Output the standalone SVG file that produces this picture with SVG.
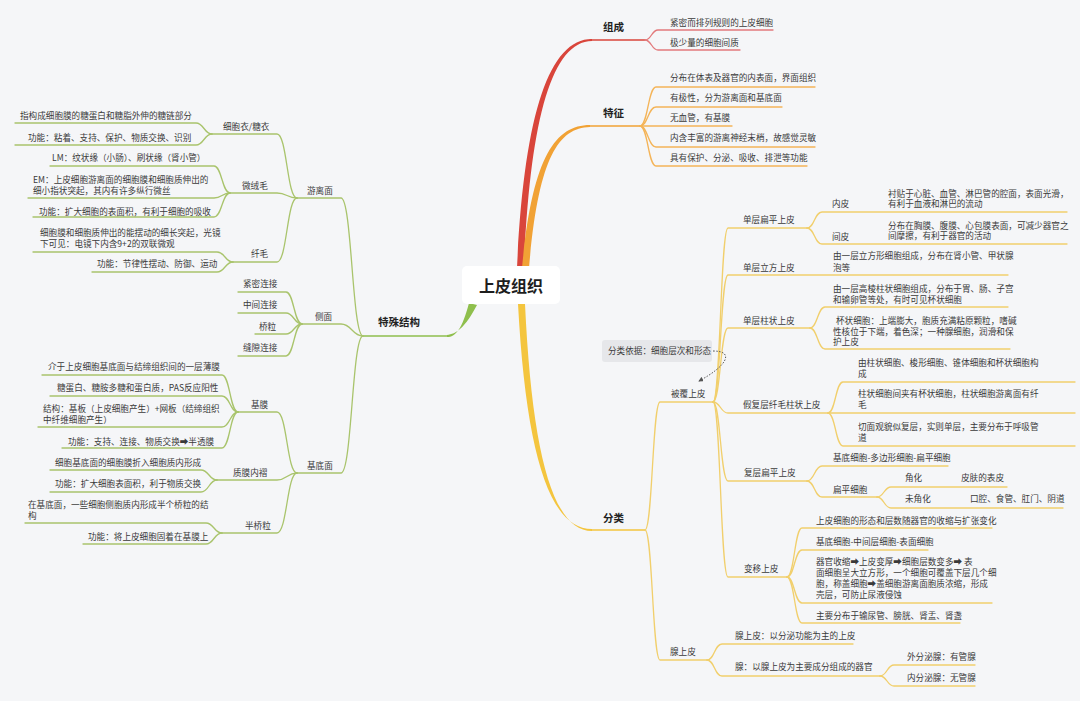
<svg xmlns="http://www.w3.org/2000/svg" width="1080" height="701" viewBox="0 0 1080 701">
<defs>
<style>
.t{font-family:"Noto Sans CJK SC","Noto Sans",sans-serif;font-size:8.6px;fill:#3a3a3a}
.m{font-family:"Noto Sans CJK SC","Noto Sans",sans-serif;font-size:10.5px;font-weight:bold;fill:#222}
.root{font-family:"Noto Sans CJK SC","Noto Sans",sans-serif;font-size:16px;font-weight:bold;fill:#1e1e1e}
.l{fill:none;stroke-width:1.3;stroke-linecap:round}
.red{stroke:#e27a7c}
.org{stroke:#f4b458}
.yel{stroke:#f1cf6c}
.grn{stroke:#a9c46c}
</style>
<marker id="ah" viewBox="0 0 6 6" refX="5" refY="3" markerWidth="5" markerHeight="5" orient="auto">
<path d="M0 0 L6 3 L0 6 Z" fill="#555"/>
</marker>
</defs>
<rect x="0" y="0" width="1080" height="701" fill="#f5f6f8"/>

<g id="connectors">
<!-- main thick branches -->
<path d="M517 268 C524 118 548 39 592 39 L592 41 C551 41.5 530 122 524 268 Z" fill="#d9453b"/>
<path d="M590 40 H645" class="l" stroke="#d9453b" stroke-width="1.8"/>
<path d="M522 268 C532 160 554 125 590 125 L590 127 C557 127.5 538 162 529 268 Z" fill="#f1a235"/>
<path d="M590 126 H640" class="l" stroke="#f1a235" stroke-width="1.8"/>
<path d="M518 304 C526 452 549 529.2 592 529 L592 531 C552 531 532 450 525 304 Z" fill="#f4c53e"/>
<path d="M592 530 H645" class="l" stroke="#f4c53e" stroke-width="1.8"/>
<path d="M469 303 C462 330 455 337.2 447 337 L447 335 C456 334 465 328 477 305 Z" fill="#8fbf4d"/>
<path d="M447 336 H363" class="l" stroke="#8fbf4d" stroke-width="1.8"/>

<!-- 组成 -->
<path class="l red" d="M645 40 C651.5 40 651.5 30 658 30 H773"/>
<path class="l red" d="M645 40 C651.5 40 651.5 50 658 50 H740"/>
<!-- 特征 -->
<path class="l org" d="M640 126 C648 126 648 87 656 87 H815"/>
<path class="l org" d="M640 126 C648 126 648 107 656 107 H782"/>
<path class="l org" d="M640 126 H732"/>
<path class="l org" d="M640 126 C648 126 648 147 656 147 H815"/>
<path class="l org" d="M640 126 C648 126 648 166 656 166 H807"/>
<!-- 分类 -->
<path class="l yel" d="M645 530 C652.5 530 652.5 402 660 402 H713"/>
<path class="l yel" d="M645 530 C652.5 530 652.5 660 660 660 H707"/>
<!-- 被覆上皮 -->
<path class="l yel" d="M713 402 C720.5 402 720.5 228 728 228 H807"/>
<path class="l yel" d="M713 402 C720.5 402 720.5 275 728 275 H1008"/>
<path class="l yel" d="M713 402 C720.5 402 720.5 328 728 328 H810"/>
<path class="l yel" d="M713 402 C720.5 402 720.5 413 728 413 H828"/>
<path class="l yel" d="M713 402 C720.5 402 720.5 481 728 481 H807"/>
<path class="l yel" d="M713 402 C720.5 402 720.5 577 728 577 H787"/>
<!-- 单层扁平上皮 -->
<path class="l yel" d="M807 228 C814.5 228 814.5 212 822 212 H1067"/>
<path class="l yel" d="M807 228 C814.5 228 814.5 244 822 244 H1067"/>
<!-- 单层柱状上皮 -->
<path class="l yel" d="M810 328 C817.5 328 817.5 307 825 307 H1008"/>
<path class="l yel" d="M810 328 C817.5 328 817.5 349 825 349 H1010"/>
<!-- 假复层纤毛柱状上皮 -->
<path class="l yel" d="M828 413 C835.5 413 835.5 382 843 382 H1075"/>
<path class="l yel" d="M828 413 H1075"/>
<path class="l yel" d="M828 413 C835.5 413 835.5 446 843 446 H1075"/>
<!-- 复层扁平上皮 -->
<path class="l yel" d="M807 481 C814.5 481 814.5 466 822 466 H948"/>
<path class="l yel" d="M807 481 C814.5 481 814.5 497 822 497 H877"/>
<!-- 扁平细胞 -->
<path class="l yel" d="M877 497 C884 497 884 487 891 487 H1007"/>
<path class="l yel" d="M877 497 C884 497 884 508 891 508 H1063"/>
<!-- 变移上皮 -->
<path class="l yel" d="M787 577 C794.5 577 794.5 528 802 528 H992"/>
<path class="l yel" d="M787 577 C794.5 577 794.5 550 802 550 H928"/>
<path class="l yel" d="M787 577 C794.5 577 794.5 603 802 603 H992"/>
<path class="l yel" d="M787 577 C794.5 577 794.5 623 802 623 H960"/>
<!-- 腺上皮 -->
<path class="l yel" d="M707 660 C714.5 660 714.5 644 722 644 H853"/>
<path class="l yel" d="M707 660 C714.5 660 714.5 676 722 676 H880"/>
<!-- 腺 -->
<path class="l yel" d="M880 676 C887 676 887 665 894 665 H975"/>
<path class="l yel" d="M880 676 C887 676 887 686 894 686 H975"/>

<!-- 特殊结构 -->
<path class="l grn" d="M363 336 C352 336 352 198 341 198 H297"/>
<path class="l grn" d="M363 336 C352 336 352 324 341 324 H302"/>
<path class="l grn" d="M363 336 C352 336 352 473 341 473 H297"/>
<!-- 游离面 -->
<path class="l grn" d="M297 198 C287 198 287 134 277 134 H212"/>
<path class="l grn" d="M297 198 C287 198 287 193 277 193 H230"/>
<path class="l grn" d="M297 198 C287 198 287 262 277 262 H233"/>
<!-- 细胞衣/糖衣 -->
<path class="l grn" d="M212 134 C204 134 204 123 196 123 H15"/>
<path class="l grn" d="M212 134 C204 134 204 145 196 145 H15"/>
<!-- 微绒毛 -->
<path class="l grn" d="M230 193 C222 193 222 166 214 166 H50"/>
<path class="l grn" d="M230 193 C222 193 222 198 214 198 H28"/>
<path class="l grn" d="M230 193 C222 193 222 217 214 217 H33"/>
<!-- 纤毛 -->
<path class="l grn" d="M233 262 C225 262 225 252 217 252 H33"/>
<path class="l grn" d="M233 262 C225 262 225 272 217 272 H92"/>
<!-- 侧面 -->
<path class="l grn" d="M302 324 C294 324 294 292 286 292 H238"/>
<path class="l grn" d="M302 324 C294 324 294 313 286 313 H238"/>
<path class="l grn" d="M302 324 C294 324 294 334 286 334 H255"/>
<path class="l grn" d="M302 324 C294 324 294 356 286 356 H238"/>
<!-- 基底面 -->
<path class="l grn" d="M297 473 C287 473 287 412 277 412 H238"/>
<path class="l grn" d="M297 473 C287 473 287 480 277 480 H217"/>
<path class="l grn" d="M297 473 C287 473 287 533 277 533 H222"/>
<!-- 基膜 -->
<path class="l grn" d="M238 412 C230 412 230 375 222 375 H42"/>
<path class="l grn" d="M238 412 C230 412 230 396 222 396 H50"/>
<path class="l grn" d="M238 412 C230 412 230 427 222 427 H38"/>
<path class="l grn" d="M238 412 C230 412 230 448 222 448 H62"/>
<!-- 质膜内褶 -->
<path class="l grn" d="M217 480 C209 480 209 470 201 470 H50"/>
<path class="l grn" d="M217 480 C209 480 209 492 201 492 H50"/>
<!-- 半桥粒 -->
<path class="l grn" d="M222 533 C214 533 214 523 206 523 H25"/>
<path class="l grn" d="M222 533 C214 533 214 544 206 544 H83"/>

<!-- 分类依据 dotted link -->
<path d="M713 351 C735 351 727 366 699 381" fill="none" stroke="#555" stroke-width="1" stroke-dasharray="1.5 1.5" marker-end="url(#ah)"/>
</g>

<g id="root">
<rect x="462" y="266" width="98" height="38" rx="5" fill="#ffffff"/>
<text class="root" x="511" y="292" text-anchor="middle">上皮组织</text>
</g>

<g id="zucheng"><text class="m" x="603" y="31">组成</text></g>
<g id="zc1"><text class="t" x="670" y="26">紧密而排列规则的上皮细胞</text></g>
<g id="zc2"><text class="t" x="670" y="46">极少量的细胞间质</text></g>

<g id="tezheng"><text class="m" x="603" y="117">特征</text></g>
<g id="tz1"><text class="t" x="670" y="81">分布在体表及器官的内表面，界面组织</text></g>
<g id="tz2"><text class="t" x="670" y="101">有极性，分为游离面和基底面</text></g>
<g id="tz3"><text class="t" x="670" y="121">无血管，有基膜</text></g>
<g id="tz4"><text class="t" x="670" y="141">内含丰富的游离神经末梢，故感觉灵敏</text></g>
<g id="tz5"><text class="t" x="670" y="161">具有保护、分泌、吸收、排泄等功能</text></g>

<g id="fenlei"><text class="m" x="603" y="522">分类</text></g>
<g id="fenleiyiju">
<rect x="602" y="340" width="110" height="22" rx="3" fill="#e6e7ea"/>
<text class="t" x="608" y="354">分类依据：细胞层次和形态</text>
</g>
<g id="beifu"><text class="t" x="671" y="397">被覆上皮</text></g>

<g id="dcbp"><text class="t" x="743" y="223">单层扁平上皮</text></g>
<g id="neipi"><text class="t" x="832" y="207">内皮</text></g>
<g id="neipi-d"><text class="t"><tspan x="888" y="197">衬贴于心脏、血管、淋巴管的腔面，表面光滑，</tspan><tspan x="888" y="207">有利于血液和淋巴的流动</tspan></text></g>
<g id="jianpi"><text class="t" x="832" y="240">间皮</text></g>
<g id="jianpi-d"><text class="t"><tspan x="888" y="229">分布在胸膜、腹膜、心包膜表面，可减少器官之</tspan><tspan x="888" y="239">间摩擦，有利于器官的活动</tspan></text></g>

<g id="dclf"><text class="t" x="743" y="271">单层立方上皮</text></g>
<g id="dclf-d"><text class="t"><tspan x="833" y="259">由一层立方形细胞组成，分布在肾小管、甲状腺</tspan><tspan x="833" y="271">泡等</tspan></text></g>

<g id="dczz"><text class="t" x="743" y="324">单层柱状上皮</text></g>
<g id="dczz-1"><text class="t"><tspan x="833" y="292">由一层高棱柱状细胞组成，分布于胃、肠、子宫</tspan><tspan x="833" y="303">和输卵管等处，有时可见杯状细胞</tspan></text></g>
<g id="dczz-2"><text class="t"><tspan x="836" y="324">杯状细胞：上端膨大，胞质充满粘原颗粒，嗜碱</tspan><tspan x="833" y="334.5">性核位于下端，着色深；一种腺细胞，润滑和保</tspan><tspan x="833" y="345">护上皮</tspan></text></g>

<g id="jfc"><text class="t" x="743" y="408">假复层纤毛柱状上皮</text></g>
<g id="jfc-1"><text class="t"><tspan x="858" y="366">由柱状细胞、梭形细胞、锥体细胞和杯状细胞构</tspan><tspan x="858" y="377">成</tspan></text></g>
<g id="jfc-2"><text class="t"><tspan x="858" y="397">柱状细胞间夹有杯状细胞，柱状细胞游离面有纤</tspan><tspan x="858" y="408">毛</tspan></text></g>
<g id="jfc-3"><text class="t"><tspan x="858" y="430">切面观貌似复层，实则单层，主要分布于呼吸管</tspan><tspan x="858" y="441">道</tspan></text></g>

<g id="fcbp"><text class="t" x="744" y="476">复层扁平上皮</text></g>
<g id="fcbp-1"><text class="t" x="833" y="461">基底细胞-多边形细胞-扁平细胞</text></g>
<g id="bpxb"><text class="t" x="833" y="493">扁平细胞</text></g>
<g id="jiaohua"><text class="t" x="905" y="481">角化</text></g>
<g id="jiaohua-d"><text class="t" x="961" y="481">皮肤的表皮</text></g>
<g id="wjh"><text class="t" x="905" y="502">未角化</text></g>
<g id="wjh-d"><text class="t" x="970" y="502">口腔、食管、肛门、阴道</text></g>

<g id="byp"><text class="t" x="744" y="572">变移上皮</text></g>
<g id="byp-1"><text class="t" x="816" y="524">上皮细胞的形态和层数随器官的收缩与扩张变化</text></g>
<g id="byp-2"><text class="t" x="816" y="545">基底细胞-中间层细胞-表面细胞</text></g>
<g id="byp-3"><text class="t"><tspan x="816" y="565">器官收缩➡上皮变厚➡细胞层数变多➡ 表</tspan><tspan x="816" y="576">面细胞呈大立方形，一个细胞可覆盖下层几个细</tspan><tspan x="816" y="587">胞，称盖细胞➡盖细胞游离面胞质浓缩，形成</tspan><tspan x="816" y="598">壳层，可防止尿液侵蚀</tspan></text></g>
<g id="byp-4"><text class="t" x="816" y="619">主要分布于输尿管、膀胱、肾盂、肾盏</text></g>

<g id="xsp"><text class="t" x="670" y="655">腺上皮</text></g>
<g id="xsp-1"><text class="t" x="735" y="639">腺上皮：以分泌功能为主的上皮</text></g>
<g id="xian"><text class="t" x="735" y="670">腺：以腺上皮为主要成分组成的器官</text></g>
<g id="wfm"><text class="t" x="907" y="660">外分泌腺：有管腺</text></g>
<g id="nfm"><text class="t" x="907" y="681">内分泌腺：无管腺</text></g>

<!-- left -->
<g id="tsjg"><text class="m" x="378" y="326">特殊结构</text></g>
<g id="ylm"><text class="t" x="307" y="194">游离面</text></g>
<g id="xby"><text class="t" x="223" y="130">细胞衣/糖衣</text></g>
<g id="xby-1"><text class="t" x="20" y="119">指构成细胞膜的糖蛋白和糖脂外伸的糖链部分</text></g>
<g id="xby-2"><text class="t" x="28" y="141">功能：粘着、支持、保护、物质交换、识别</text></g>
<g id="wrm"><text class="t" x="242" y="189">微绒毛</text></g>
<g id="wrm-1"><text class="t" x="52" y="161">LM：纹状缘（小肠）、刷状缘（肾小管）</text></g>
<g id="wrm-2"><text class="t"><tspan x="33" y="183">EM：上皮细胞游离面的细胞膜和细胞质伸出的</tspan><tspan x="33" y="194">细小指状突起，其内有许多纵行微丝</tspan></text></g>
<g id="wrm-3"><text class="t" x="39" y="215">功能：扩大细胞的表面积，有利于细胞的吸收</text></g>
<g id="xm"><text class="t" x="251" y="257">纤毛</text></g>
<g id="xm-1"><text class="t"><tspan x="40" y="236">细胞膜和细胞质伸出的能摆动的细长突起，光镜</tspan><tspan x="40" y="247">下可见：电镜下内含9+2的双联微观</tspan></text></g>
<g id="xm-2"><text class="t" x="97" y="267">功能：节律性摆动、防御、运动</text></g>

<g id="cm"><text class="t" x="315" y="320">侧面</text></g>
<g id="jmlj"><text class="t" x="243" y="287">紧密连接</text></g>
<g id="zjlj"><text class="t" x="243" y="308">中间连接</text></g>
<g id="ql"><text class="t" x="259" y="330">桥粒</text></g>
<g id="fxlj"><text class="t" x="243" y="351">缝隙连接</text></g>

<g id="jdm"><text class="t" x="307" y="469">基底面</text></g>
<g id="jm"><text class="t" x="251" y="408">基膜</text></g>
<g id="jm-1"><text class="t" x="48" y="370">介于上皮细胞基底面与结缔组织间的一层薄膜</text></g>
<g id="jm-2"><text class="t" x="57" y="391">糖蛋白、糖胺多糖和蛋白质，PAS反应阳性</text></g>
<g id="jm-3"><text class="t"><tspan x="43" y="412">结构：基板（上皮细胞产生）+网板（结缔组织</tspan><tspan x="43" y="423">中纤维细胞产生）</tspan></text></g>
<g id="jm-4"><text class="t" x="68" y="445">功能：支持、连接、物质交换➡半透膜</text></g>
<g id="zmnz"><text class="t" x="233" y="476">质膜内褶</text></g>
<g id="zmnz-1"><text class="t" x="55" y="466">细胞基底面的细胞膜折入细胞质内形成</text></g>
<g id="zmnz-2"><text class="t" x="55" y="487">功能：扩大细胞表面积，利于物质交换</text></g>
<g id="bql"><text class="t" x="245" y="529">半桥粒</text></g>
<g id="bql-1"><text class="t"><tspan x="28" y="508">在基底面，一些细胞侧胞质内形成半个桥粒的结</tspan><tspan x="28" y="519">构</tspan></text></g>
<g id="bql-2"><text class="t" x="88" y="540">功能：将上皮细胞固着在基膜上</text></g>
</svg>
